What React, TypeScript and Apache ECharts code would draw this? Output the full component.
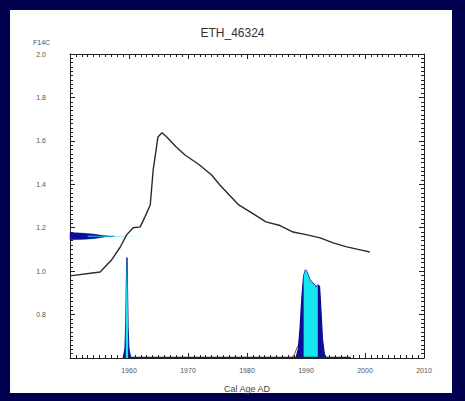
import React, { useEffect, useRef } from 'react';
import * as echarts from 'echarts';

// Calibration curve (bomb peak)
const curveYears = [1950, 1955.1, 1957, 1958.5, 1959.6, 1960.7, 1961.9, 1962.7, 1963.6, 1964.1, 1964.6, 1964.9, 1965.6, 1966.4, 1968, 1969.5, 1971.9, 1974, 1975.4, 1977, 1978.6, 1980.8, 1983.2, 1985.6, 1987.8, 1990.2, 1992.4, 1994.6, 1996.9, 1999.2, 2000.8];
const curveF14C = [0.978, 0.996, 1.05, 1.11, 1.167, 1.2, 1.204, 1.25, 1.305, 1.466, 1.56, 1.618, 1.637, 1.618, 1.572, 1.535, 1.49, 1.443, 1.397, 1.351, 1.305, 1.268, 1.227, 1.21, 1.18, 1.167, 1.153, 1.13, 1.112, 1.098, 1.088];

// Measured F14C distribution (drawn sideways from the F14C axis), extent in years
const measF = [1.144, 1.147, 1.15, 1.154, 1.158, 1.1605, 1.1625, 1.166, 1.17, 1.174, 1.178];
const measExtent = [0, 2.5, 4.2, 5, 6, 7.5, 6, 5, 4.2, 2.5, 0];
const measTipF = [1.1585, 1.1608, 1.1612, 1.1635];
const measTipExtent = [3, 11.8, 11.8, 3];

// Calibrated age probability: narrow spike
const spikeYears = [1959.0, 1959.3, 1959.45, 1959.55, 1959.65, 1959.75, 1959.85, 1960.0, 1960.3];
const spikeProb = [0, 0.03, 0.12, 0.26, 0.33, 0.24, 0.1, 0.03, 0];
const spikeRange = [2, 6]; // index range of highlighted part

// Calibrated age probability: broad range
const broadYears = [1988.3, 1988.7, 1989.0, 1989.3, 1989.6, 1989.9, 1990.1, 1990.4, 1990.7, 1991.0, 1991.2, 1991.5, 1991.7, 1992.0, 1992.3, 1992.5, 1992.8, 1993.1, 1993.4];
const broadProb = [0, 0.03, 0.1, 0.2, 0.27, 0.29, 0.285, 0.27, 0.255, 0.25, 0.245, 0.24, 0.232, 0.24, 0.235, 0.17, 0.06, 0.015, 0];
const broadRange = [4, 13];

const baselineYears = [1959.9, 1997.6];
const redTailYears = [1987.6, 1988.1, 1988.6];
const redTailProb = [0, 0.015, 0.04];

const xTicks = [1950, 1960, 1970, 1980, 1990, 2000, 2010];
const yTicks = [0.6, 0.8, 1.0, 1.2, 1.4, 1.6, 1.8, 2.0];

const FONT = 'Liberation Sans, Arial, sans-serif';
const DARK_BLUE = '#0c0c96';
const CYAN = '#16e6ef';

export default function App() {
  const ref = useRef<HTMLDivElement>(null);
  useEffect(() => {
    if (!ref.current) return;
    const chart = echarts.init(ref.current, undefined, { renderer: 'svg' });
    const tickStyle = {
      axisLine: { show: true, lineStyle: { color: '#222', width: 1 } },
      axisTick: { show: true, inside: true, length: 5, lineStyle: { color: '#222', width: 1 } },
      minorTick: { show: true, splitNumber: 10, length: 3, lineStyle: { color: '#222', width: 1 } },
      splitLine: { show: false },
      minorSplitLine: { show: false },
    };
    const zip = (xs: number[], ys: number[]) => xs.map((x, i) => [x, ys[i]]);
    const option: any = {
      animation: false,
      backgroundColor: '#00004e',
      title: {
        text: 'ETH_46324', left: 'center', top: 22,
        textStyle: { fontFamily: FONT, fontSize: 12, fontWeight: 'normal', color: '#333' },
      },
      graphic: [
        { type: 'rect', z: -100, silent: true, shape: { x: 10, y: 10, width: 442, height: 383 }, style: { fill: '#ffffff' } },
        { type: 'text', left: 33, top: 39, style: { text: 'F14C', fontSize: 7, fill: '#555555', fontFamily: FONT } },
      ],
      grid: { left: 70, right: 41, top: 54, bottom: 43 },
      xAxis: [
        {
          type: 'value', min: xTicks[0], max: xTicks[xTicks.length - 1], interval: 10, position: 'bottom',
          ...tickStyle,
          name: 'Cal Age AD', nameLocation: 'middle', nameGap: 26,
          nameTextStyle: { fontFamily: FONT, fontSize: 9, color: '#444' },
          axisLabel: { showMinLabel: false, fontFamily: FONT, fontSize: 7, color: '#555', margin: 9, formatter: (v: number) => String(Math.round(v)) },
        },
        {
          type: 'value', min: xTicks[0], max: xTicks[xTicks.length - 1], interval: 10, position: 'top',
          ...tickStyle, axisLabel: { show: false },
        },
      ],
      yAxis: [
        {
          type: 'value', min: yTicks[0], max: yTicks[yTicks.length - 1], interval: 0.2, position: 'left',
          ...tickStyle,
          axisLabel: { showMinLabel: false, fontFamily: FONT, fontSize: 7, color: '#555', margin: 24, formatter: (v: number) => v.toFixed(1) },
        },
        {
          type: 'value', min: yTicks[0], max: yTicks[yTicks.length - 1], interval: 0.2, position: 'right',
          ...tickStyle, axisLabel: { show: false },
        },
        { type: 'value', min: 0, max: 1, show: false },
      ],
      series: [
        {
          type: 'custom', xAxisIndex: 0, yAxisIndex: 0, data: [0], z: 2,
          renderItem: (_p: any, api: any) => {
            const full = measF.map((f, i) => api.coord([xTicks[0] + measExtent[i], f]));
            const tip = measTipF.map((f, i) => api.coord([xTicks[0] + measTipExtent[i], f]));
            return {
              type: 'group',
              children: [
                { type: 'polygon', shape: { points: full }, style: { fill: DARK_BLUE, stroke: DARK_BLUE, lineWidth: 0.5 } },
                { type: 'polygon', shape: { points: tip }, style: { fill: CYAN } },
              ],
            };
          },
        },
        {
          type: 'line', yAxisIndex: 2, symbol: 'none', z: 3,
          data: zip(spikeYears, spikeProb),
          lineStyle: { color: DARK_BLUE, width: 1 }, areaStyle: { color: DARK_BLUE, opacity: 1 },
        },
        {
          type: 'line', yAxisIndex: 2, symbol: 'none', z: 4,
          data: zip(spikeYears, spikeProb).slice(spikeRange[0], spikeRange[1] + 1),
          lineStyle: { width: 0 }, areaStyle: { color: CYAN, opacity: 1 },
        },
        {
          type: 'line', yAxisIndex: 2, symbol: 'none', z: 3,
          data: zip(broadYears, broadProb),
          lineStyle: { color: DARK_BLUE, width: 1.2 }, areaStyle: { color: DARK_BLUE, opacity: 1 },
        },
        {
          type: 'line', yAxisIndex: 2, symbol: 'none', z: 4,
          data: zip(broadYears, broadProb).slice(broadRange[0], broadRange[1] + 1),
          lineStyle: { width: 0 }, areaStyle: { color: CYAN, opacity: 1 },
        },
        {
          type: 'line', yAxisIndex: 2, symbol: 'none', z: 5,
          data: zip(redTailYears, redTailProb),
          lineStyle: { color: '#a0402a', width: 1 },
        },
        {
          type: 'line', yAxisIndex: 2, symbol: 'none', z: 5,
          data: baselineYears.map((x) => [x, 0.002]),
          lineStyle: { color: '#222', width: 1.5 },
        },
        {
          type: 'line', xAxisIndex: 0, yAxisIndex: 0, symbol: 'none', z: 6,
          data: zip(curveYears, curveF14C),
          lineStyle: { color: '#2a2a2a', width: 1.4 },
        },
      ],
    };
    chart.setOption(option);
    return () => chart.dispose();
  }, []);
  return (
    <div style={{ position: 'fixed', left: 0, top: 0, width: 465, height: 401 }}>
      <div ref={ref} style={{ width: 465, height: 401 }} />
    </div>
  );
}
